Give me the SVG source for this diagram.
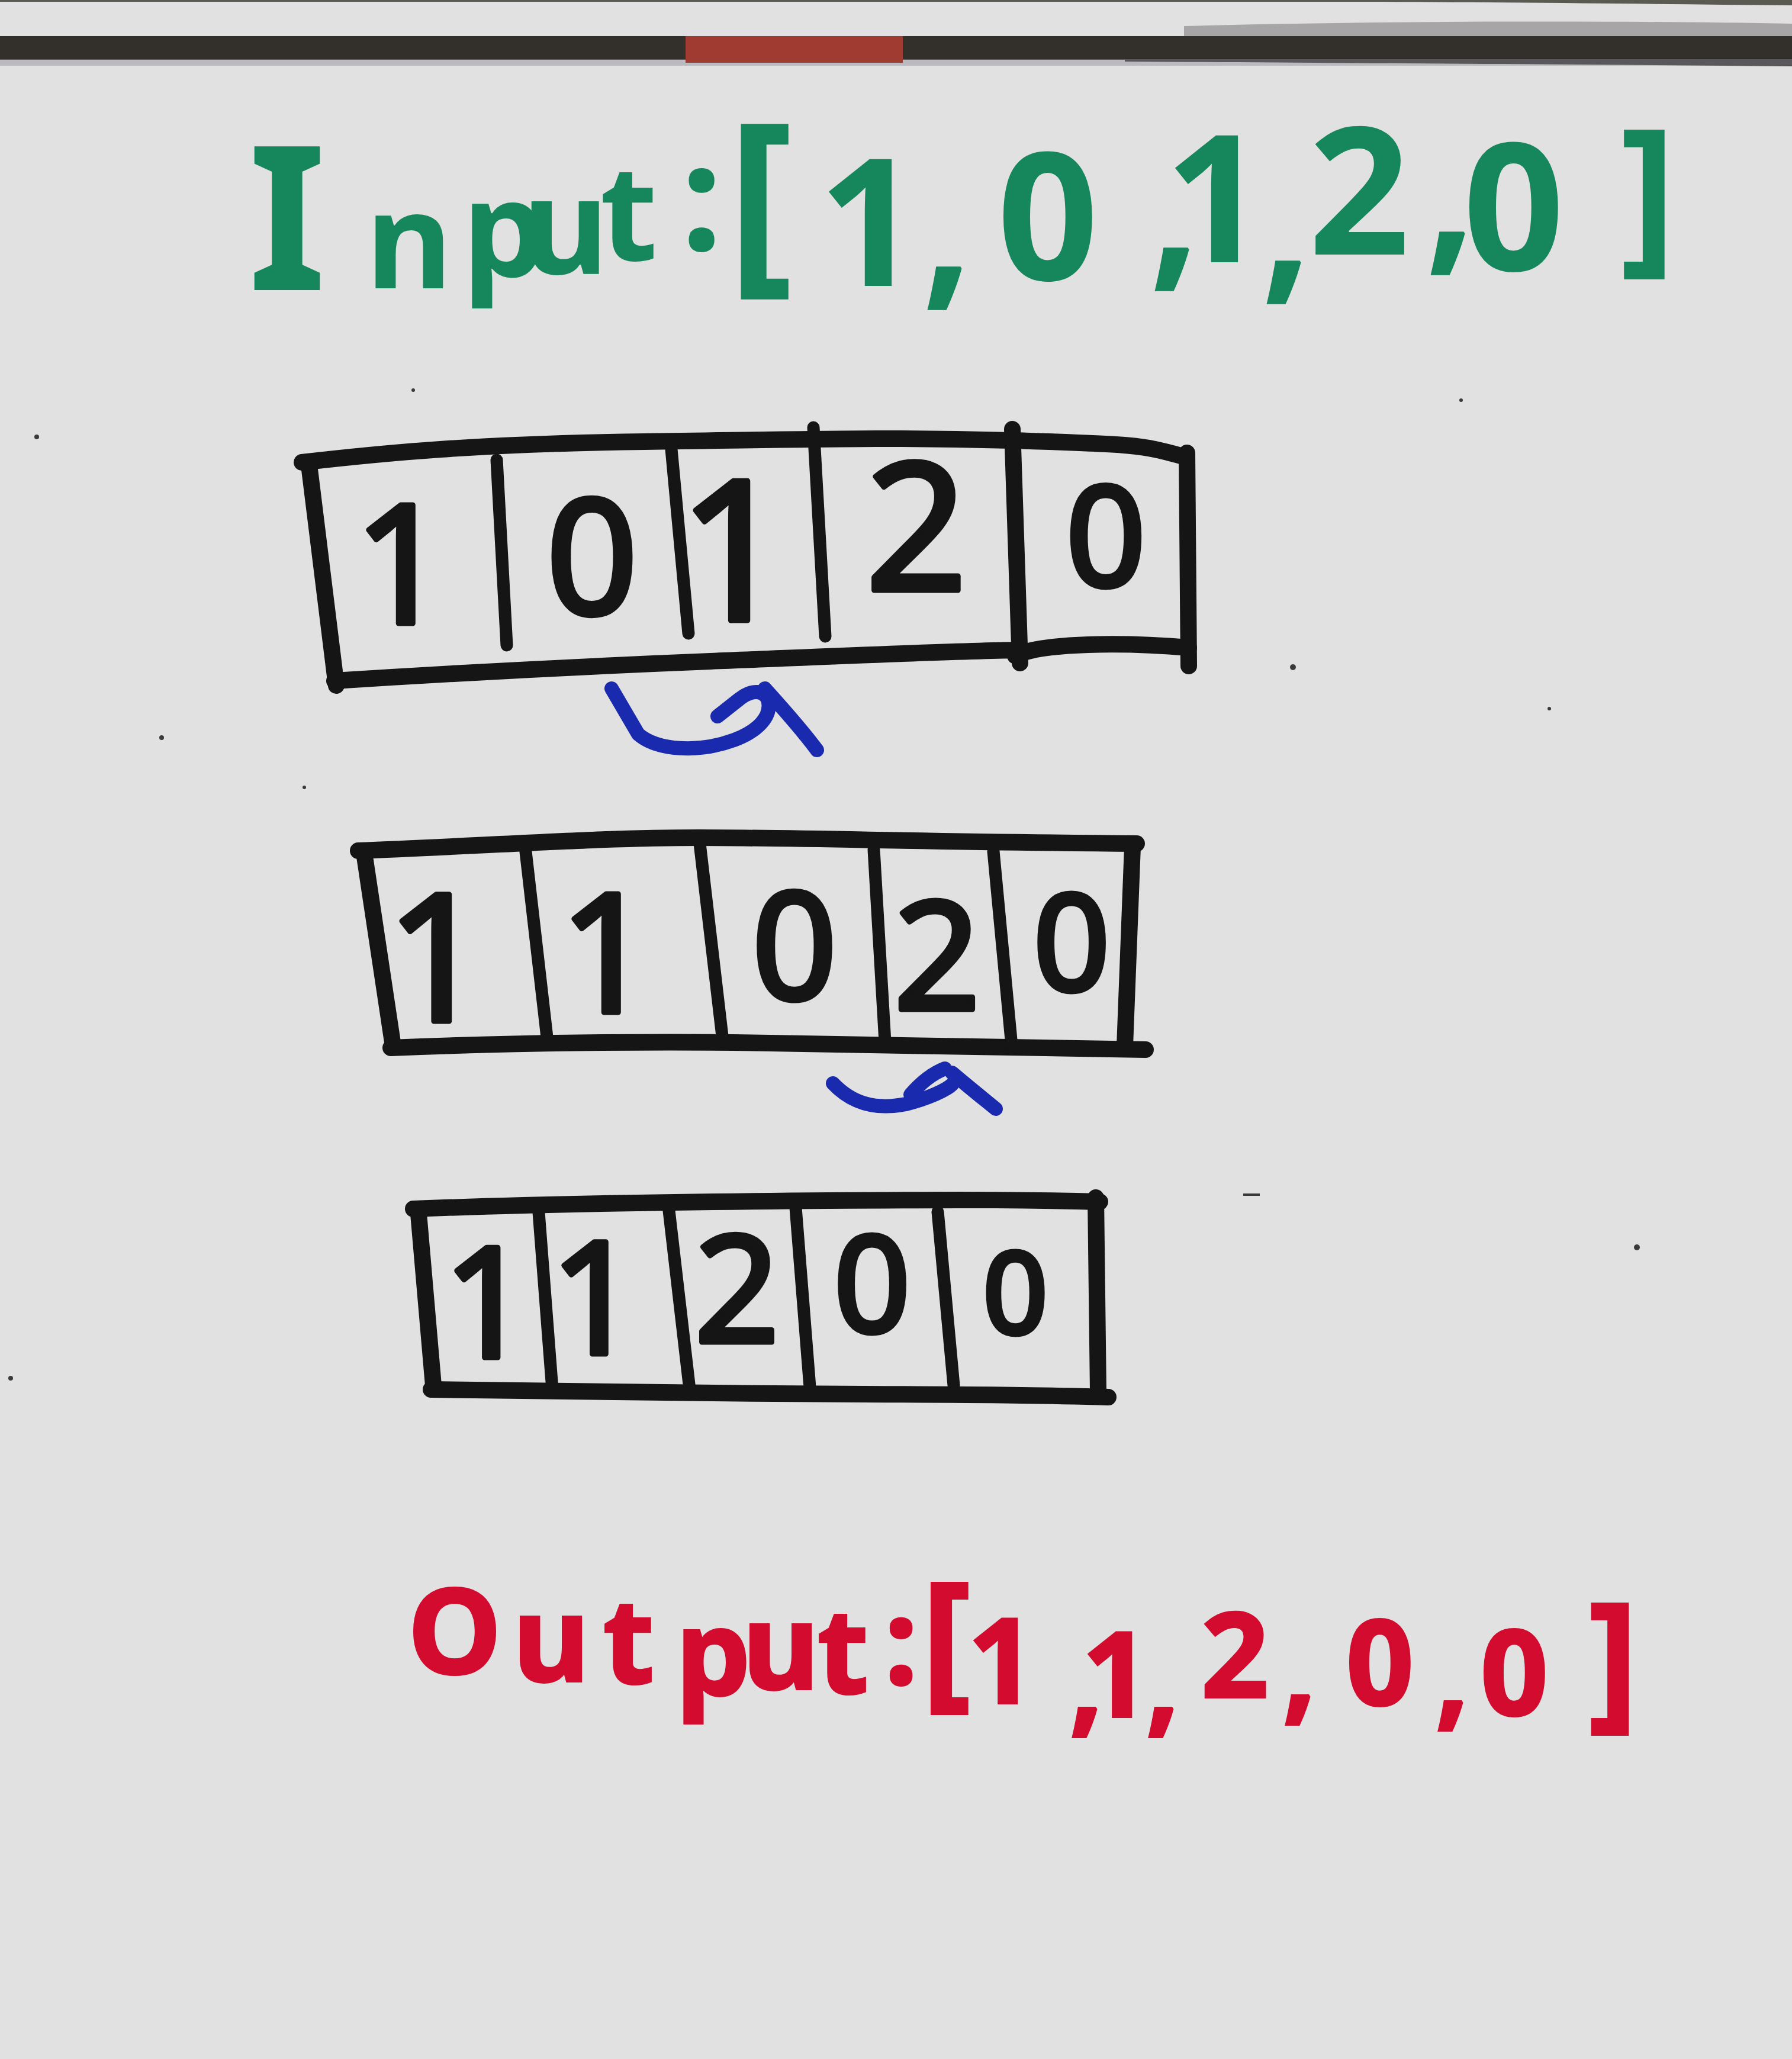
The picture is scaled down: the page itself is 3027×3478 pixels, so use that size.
<svg xmlns="http://www.w3.org/2000/svg" width="3027" height="3478" viewBox="0 0 3027 3478">
<style>
.ink{fill:none;stroke:#151515;stroke-width:28;stroke-linecap:round;stroke-linejoin:round}
.dv{fill:none;stroke:#151515;stroke-width:21;stroke-linecap:round}
.dg{font-family:"Noto Sans","Liberation Sans",sans-serif;fill:#151515;stroke:#151515;stroke-width:9;stroke-linejoin:round;text-anchor:middle}
.grn{font-family:"Noto Sans","Liberation Sans",sans-serif;font-weight:bold;fill:#16875d;text-anchor:middle}
.red{font-family:"Noto Sans","Liberation Sans",sans-serif;font-weight:bold;fill:#d20b2f;stroke:#d20b2f;stroke-width:4;text-anchor:middle}
.blue{fill:none;stroke:#1a2aae;stroke-width:24;stroke-linecap:round;stroke-linejoin:round}
.spk{fill:#3a3a3a}
</style>
<rect width="3027" height="3478" fill="#e1e1e1"/>
<g id="board-frame">
<rect x="0" y="0" width="3027" height="3" fill="#5a5a52"/>
<path d="M2300,0 L3027,0 L3027,9 C2800,7 2600,4 2300,3 Z" fill="#5a5a52"/>
<path d="M2000,44 C2300,36 2700,34 3027,40 L3027,64 L2000,64 Z" fill="#8e8c8c" opacity="0.7"/>
<rect x="0" y="61" width="3027" height="40" fill="#33302c"/>
<path d="M1900,98 L3027,98 L3027,112 C2600,108 2200,106 1900,104 Z" fill="#2e2b28"/>
<rect x="0" y="100" width="3027" height="11" fill="#8e8e96" opacity="0.45"/>
<rect x="1158" y="61" width="367" height="45" fill="#a03b31"/>
</g>
<g id="input-label">
<text class="grn" font-size="300"><tspan x="485" y="490" font-size="340">I</tspan><tspan x="691 852 955 1062" y="487 467 463 440" font-size="225">nput</tspan><tspan x="1185" y="423" font-size="250">:</tspan><tspan x="1284" y="452" font-size="340">[</tspan><tspan x="1468 1600 1770 1984 2053 2173 2296 2450 2557" y="483 485 473 453 443 475 430 426 457">1,0,1,2,0</tspan><tspan x="2784" y="426" font-size="290">]</tspan></text>
</g>
<g id="array-1">
<path class="ink" d="M510,781 C650,765 800,750 1089,746 S1500,738 1708,744 S1930,752 1995,770"/>
<path class="ink" d="M522,785 L568,1158"/>
<path class="ink" d="M565,1150 C800,1135 1000,1125 1200,1117 S1600,1100 1720,1098 M1715,1108 C1760,1085 1900,1085 2008,1094"/>
<path class="ink" d="M2005,765 L2008,1125"/>
<path class="dv" d="M839,777 L856,1090 M1133,748 L1163,1070 M1374,722 L1394,1075"/>
<path class="ink" d="M1710,725 L1723,1120"/>
<text class="dg" x="678" y="1053" font-size="280">1</text>
<text class="dg" x="1000" y="1037" font-size="270">0</text>
<text class="dg" x="1240" y="1048" font-size="330">1</text>
<text class="dg" x="1548" y="997" font-size="300">2</text>
<text class="dg" x="1868" y="990" font-size="235">0</text>
</g>
<g id="array-2">
<path class="ink" d="M605,1437 C800,1430 1000,1415 1180,1415 S1550,1422 1920,1425"/>
<path class="ink" d="M616,1447 L664,1767"/>
<path class="ink" d="M660,1770 C850,1762 1100,1758 1300,1762 S1700,1770 1935,1773"/>
<path class="ink" d="M1913,1430 L1900,1767"/>
<path class="dv" d="M887,1430 L924,1752 M1182,1425 L1220,1750 M1476,1435 L1495,1760 M1678,1438 L1709,1767"/>
<text class="dg" x="738" y="1725" font-size="300">1</text>
<text class="dg" x="1025" y="1710" font-size="280">1</text>
<text class="dg" x="1342" y="1687" font-size="250">0</text>
<text class="dg" x="1583" y="1705" font-size="255">2</text>
<text class="dg" x="1810" y="1673" font-size="225">0</text>
</g>
<g id="array-3">
<path class="ink" d="M698,2042 C900,2034 1150,2030 1400,2028 S1750,2027 1858,2030"/>
<path class="ink" d="M707,2050 L732,2340"/>
<path class="ink" d="M728,2347 C900,2350 1200,2354 1460,2355 S1750,2357 1872,2360"/>
<path class="ink" d="M1851,2023 L1855,2350"/>
<path class="dv" d="M910,2048 L933,2347 M1130,2045 L1165,2347 M1344,2040 L1368,2343 M1584,2047 L1611,2340"/>
<text class="dg" x="823" y="2293" font-size="260">1</text>
<text class="dg" x="1005" y="2287" font-size="265">1</text>
<text class="dg" x="1245" y="2267" font-size="250">2</text>
<text class="dg" x="1473" y="2250" font-size="225">0</text>
<text class="dg" x="1715" y="2252" font-size="190">0</text>
</g>
<g id="connectors">
<path class="blue" d="M1033,1163 L1078,1240 C1110,1268 1180,1272 1240,1250 C1280,1235 1305,1210 1297,1182 C1290,1165 1270,1165 1250,1180 L1212,1210"/>
<path class="blue" d="M1292,1163 C1330,1205 1360,1240 1380,1267"/>
<path class="blue" d="M1407,1830 C1440,1865 1480,1875 1530,1865 C1570,1855 1600,1840 1608,1832"/>
<path class="blue" d="M1538,1849 C1558,1826 1578,1812 1596,1805"/>
<path class="blue" d="M1608,1812 C1635,1835 1660,1855 1682,1873"/>
</g>
<g id="output-label">
<text class="red" font-size="200"><tspan x="768 931 1062 1205 1319 1424" y="2827 2840 2843 2863 2853 2860">Output</tspan><tspan x="1522" y="2844">:</tspan><tspan x="1598" y="2855" font-size="253">[</tspan><tspan x="1692 1835 1885 1964 2086 2195 2331 2453 2558" y="2877 2908 2900 2908 2867 2887 2880 2897 2897">1,1,2,0,0</tspan><tspan x="2725" y="2890" font-size="253">]</tspan></text>
</g>
<g id="specks">
<circle class="spk" cx="62" cy="738" r="4"/>
<circle class="spk" cx="273" cy="1246" r="4"/>
<circle class="spk" cx="514" cy="1330" r="3"/>
<circle class="spk" cx="2184" cy="1127" r="5"/>
<circle class="spk" cx="18" cy="2328" r="4"/>
<circle class="spk" cx="2765" cy="2107" r="5"/>
<circle class="spk" cx="698" cy="659" r="3"/>
<circle class="spk" cx="2468" cy="676" r="3"/>
<circle class="spk" cx="2617" cy="1197" r="3"/>
<rect class="spk" x="2100" y="2016" width="28" height="4"/>
</g>
</svg>
